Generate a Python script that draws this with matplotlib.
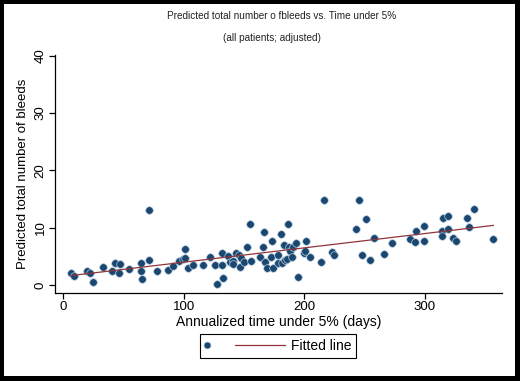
import numpy as np
import matplotlib
matplotlib.use("Agg")
import matplotlib.pyplot as plt
from matplotlib.lines import Line2D
from matplotlib.patches import Rectangle
from matplotlib.legend_handler import HandlerLine2D

plt.rcParams['font.family'] = ['Liberation Sans', 'DejaVu Sans']

# annualized time under 5% (days) and predicted total number of bleeds
days = [6.4, 8.5, 20, 21.8, 24.6, 32.9, 40.4, 43.1, 47.3, 45.9, 54.5, 64.4, 64.7,
        64.9, 70.8, 71, 77.7, 87, 91, 95.6, 99, 101.2, 101.2, 103.4, 108, 115.8,
        121.9, 125.5, 127.5, 131.6, 131.6, 132.9, 136.6, 138.5, 140.7, 141.2,
        143.4, 145.4, 146.8, 147.3, 150.1, 152.3, 155, 155.6, 163.3, 165.3,
        166.7, 167.5, 169.4, 172.2, 173.3, 174.4, 178.5, 178.5, 180.5, 181.8,
        183.5, 184, 185.5, 186.8, 187.6, 188.2, 189.6, 190.5, 193.2, 194.6,
        199.3, 200.7, 201, 204.8, 213.7, 216.7, 222.8, 225, 243, 245.7, 248,
        251.2, 254.6, 257.9, 266.2, 272.8, 287.7, 292.1, 292.7, 299.3, 299.3,
        314, 314.3, 315.3, 319.2, 319.5, 323.6, 325.9, 334.7, 336.9, 341, 356.8]
bleeds = [2.05, 1.6, 2.45, 2.05, 0.6, 3.2, 2.45, 3.8, 3.6, 2.15, 2.8, 3.8, 2.4,
          1.1, 4.4, 13.0, 2.5, 2.6, 3.3, 4.1, 4.55, 4.7, 6.3, 2.9, 3.5, 3.5,
          4.95, 3.4, 0.1, 5.65, 3.4, 1.2, 5.1, 4.0, 4.25, 3.7,
          5.65, 5.25, 3.2, 4.7, 4.0, 6.55, 10.7, 4.25, 4.95, 6.7,
          9.15, 4.0, 2.9, 4.8, 7.6, 2.9, 5.25, 3.9, 8.9, 3.8,
          6.95, 4.4, 4.6, 10.6, 6.55, 5.95, 4.8, 6.55, 7.4, 1.45,
          5.65, 6.0, 7.75, 4.85, 4.0, 14.9, 5.7, 5.2, 9.8, 14.9, 5.3,
          11.5, 4.4, 8.2, 5.4, 7.35, 8.0, 7.55, 9.35, 10.2, 7.75,
          9.35, 8.6, 11.6, 12.1, 9.75, 8.2, 7.6, 11.7, 10.1, 13.25, 8.05]

navy = '#1a476f'
maroon = '#90353b'

x = np.array(days)
y = np.array(bleeds)
slope, icpt = np.polyfit(x, y, 1)
xfit = np.array([x.min(), x.max()])

fig = plt.figure(figsize=(5.2, 3.81), dpi=100)
fig.patch.set_facecolor('black')
fig.patches.append(Rectangle((4 / 520, 1 - 376 / 381), 511 / 520, 372 / 381,
                             transform=fig.transFigure, facecolor='white',
                             edgecolor='none', zorder=-5))

ax = fig.add_axes([55 / 520, 1 - 293 / 381, 447 / 520, 238 / 381])
ax.set_facecolor('white')
ax.scatter(x, y, s=30, color=navy, edgecolors='#b8cce0', linewidths=0.5, zorder=2)
ax.plot(xfit, icpt + slope * xfit, color=maroon, lw=0.9, zorder=3)

ax.set_xlim(-6.9, 364)
ax.set_ylim(-1.4, 40.1)
ax.set_xticks([0, 100, 200, 300])
ax.set_yticks([0, 10, 20, 30, 40])
for s in ['top', 'right']:
    ax.spines[s].set_visible(False)
for s in ['left', 'bottom']:
    ax.spines[s].set_linewidth(0.9)
ax.tick_params(direction='out', length=4, width=0.9, labelsize=9.5, pad=2)
plt.setp(ax.get_yticklabels(), rotation=90, va='center')

ax.set_xlabel('Annualized time under 5% (days)', fontsize=10, labelpad=1)
ax.set_ylabel('Predicted total number of bleeds', fontsize=9.5, labelpad=4)

fig.text(282 / 520, 1 - 16 / 381, 'Predicted total number o fbleeds vs. Time under 5%',
         ha='center', va='center', fontsize=7.2, color='#222222')
fig.text(272 / 520, 1 - 38 / 381, '(all patients; adjusted)',
         ha='center', va='center', fontsize=7.2, color='#222222')


class MarkerAtLeft(HandlerLine2D):
    # marker sits at the middle of xdata, so keep xdata short near the left edge
    def get_xdata(self, legend, xdescent, ydescent, width, height, fontsize):
        xd = np.array([-xdescent, -xdescent + 4.0])
        return xd, xd


h_pts = Line2D([], [], ls='none', marker='o', ms=5, color=navy,
               mec='#b8cce0', mew=0.5)
h_fit = Line2D([], [], color=maroon, lw=0.9)
leg = fig.legend([h_pts, h_fit], ['', 'Fitted line'], loc='center',
                 bbox_to_anchor=(278 / 520, 1 - 346 / 381), ncol=2, fontsize=10,
                 handlelength=3.6, handletextpad=0.43, columnspacing=-1.84,
                 borderpad=0.35, frameon=True, fancybox=False, edgecolor='black',
                 framealpha=1, handler_map={h_pts: MarkerAtLeft()})
leg.get_frame().set_linewidth(0.8)

fig.savefig('out.png', dpi=100, facecolor=fig.get_facecolor())
